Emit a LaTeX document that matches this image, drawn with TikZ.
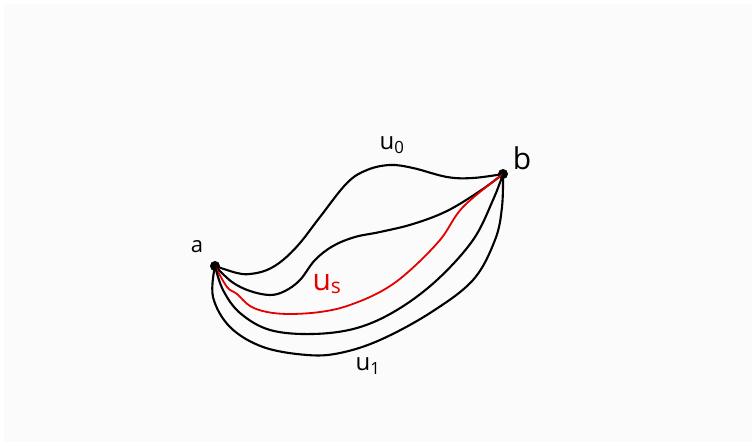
\documentclass[tikz,border=0pt]{standalone}
\usepackage{fontspec}
\setmainfont{Open Sans}
\usetikzlibrary{positioning}

\begin{document}
\begin{tikzpicture}[
    x=1pt, y=-1pt,
    line width=2.1pt, line cap=round, line join=round,
    endpoint/.style={circle, fill=black, inner sep=0pt, minimum size=10pt},
    path/.style={draw=black},
    spath/.style={draw=red!90!black, line width=1.8pt},
    ptlabel/.style={font=\fontsize{22}{22}\selectfont},
    pathlabel/.style={font=\fontsize{24}{24}\selectfont}
  ]
    % paper
    \fill[white] (0,0) rectangle (756,446);
    \fill[gray!3] (4,4) rectangle (752,442);

    % end points
    \node[endpoint] (a) at (215,266) {};
    \node[endpoint] (b) at (503,174) {};
    \node[ptlabel] (alab) at (197,247) {a};
    \node[ptlabel, font=\fontsize{30}{30}\selectfont] (blab) at (522,158) {b};

    % the family of paths from a to b
    \draw[path] plot[smooth, tension=0.6] coordinates {(a.center) (237,273) (250,274) (267,270)
        (283,260) (300,243) (320,217) (347,183) (367,170) (390,165) (413,168) (447,177) (473,178) (b.center)};
    \draw[path] plot[smooth, tension=0.6] coordinates {(a.center) (232,282) (250,291) (270,295)
        (285,291) (300,280) (315,260) (333,246) (355,237) (380,232) (413,224) (447,211) (480,191) (b.center)};
    \draw[spath] plot[smooth, tension=0.6] coordinates {(a.center) (227,287) (237,294) (250,306)
        (267,312) (290,314) (320,312) (347,306) (380,292) (407,273) (440,240) (463,207) (b.center)};
    \draw[path] plot[smooth, tension=0.6] coordinates {(a.center) (223,290) (240,313) (270,330)
        (313,334) (357,328) (397,310) (437,280) (473,240) (493,200) (b.center)};
    \draw[path] plot[smooth, tension=0.6] coordinates {(a.center) (213,297) (230,327) (263,347)
        (307,355) (340,353) (380,340) (430,313) (473,280) (495,240) (502,207) (b.center)};

    % names of the paths
    \node[pathlabel] (u0) at (392,145) {u\textsubscript{0}};
    \node[pathlabel, text=red!90!black, font=\fontsize{30}{30}\selectfont] (us) at (327,284) {u\textsubscript{s}};
    \node[pathlabel] (u1) at (368,366) {u\textsubscript{1}};
\end{tikzpicture}
\end{document}
